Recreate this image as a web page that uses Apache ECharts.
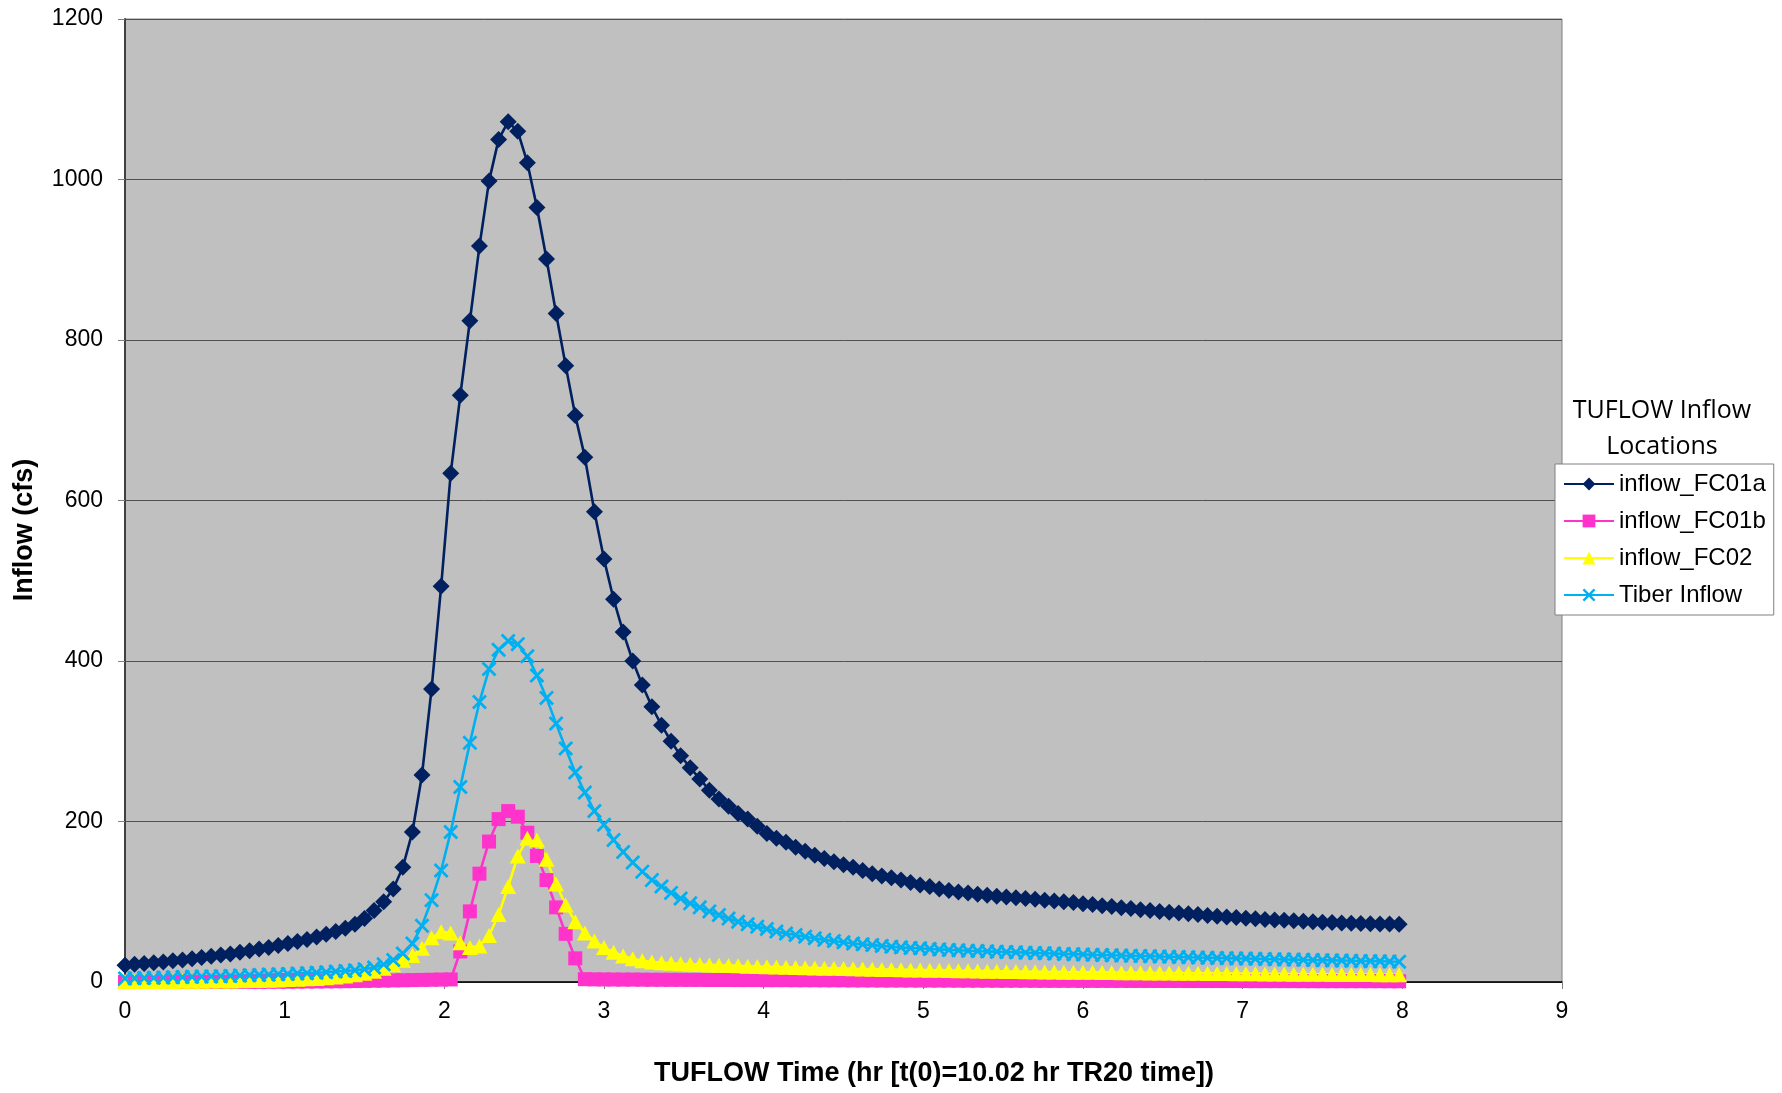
<!DOCTYPE html>
<html>
<head>
<meta charset="utf-8">
<script src="https://cdn.jsdelivr.net/npm/echarts@6/dist/echarts.min.js"></script>
<style>
html,body{margin:0;padding:0;background:#fff;}
#chart{width:1782px;height:1093px;}
</style>
</head>
<body>
<div id="chart"></div>
<script>
// Time (hr) of each sample
const timeHr = [
0, 0.06, 0.12, 0.18, 0.24, 0.3, 0.36, 0.42, 0.48, 0.54,
0.6, 0.66, 0.72, 0.78, 0.84, 0.9, 0.96, 1.02, 1.08, 1.14,
1.2, 1.26, 1.32, 1.38, 1.44, 1.5, 1.56, 1.62, 1.68, 1.74,
1.8, 1.86, 1.92, 1.98, 2.04, 2.1, 2.16, 2.22, 2.28, 2.34,
2.4, 2.46, 2.52, 2.58, 2.64, 2.7, 2.76, 2.82, 2.88, 2.94,
3, 3.06, 3.12, 3.18, 3.24, 3.3, 3.36, 3.42, 3.48, 3.54,
3.6, 3.66, 3.72, 3.78, 3.84, 3.9, 3.96, 4.02, 4.08, 4.14,
4.2, 4.26, 4.32, 4.38, 4.44, 4.5, 4.56, 4.62, 4.68, 4.74,
4.8, 4.86, 4.92, 4.98, 5.04, 5.1, 5.16, 5.22, 5.28, 5.34,
5.4, 5.46, 5.52, 5.58, 5.64, 5.7, 5.76, 5.82, 5.88, 5.94,
6, 6.06, 6.12, 6.18, 6.24, 6.3, 6.36, 6.42, 6.48, 6.54,
6.6, 6.66, 6.72, 6.78, 6.84, 6.9, 6.96, 7.02, 7.08, 7.14,
7.2, 7.26, 7.32, 7.38, 7.44, 7.5, 7.56, 7.62, 7.68, 7.74,
7.8, 7.86, 7.92, 7.98
];

const inflowFC01a = [
21, 22, 23, 24, 25, 26.5, 27.5, 29, 30.5, 32,
33.5, 35, 37, 39, 41, 43, 45.5, 48, 50.5, 53,
56, 59.5, 63, 67, 72, 79, 89, 100, 116, 143,
187, 258, 365, 493, 634, 731, 824, 917, 998, 1050,
1072, 1060, 1021, 965, 901, 833, 768, 706, 654, 586,
527, 477, 436, 400, 370, 343, 320, 300, 282, 267,
253, 239, 228, 219, 210, 203, 194, 185, 179, 174,
168, 163, 158, 154, 150, 146, 143, 139, 135, 132,
130, 127, 124, 121, 119, 116, 114, 112, 111, 109.5,
108, 107, 106, 105, 104, 103, 102, 101, 100, 99,
97.5, 96.5, 95, 94, 92.5, 91.5, 90, 89, 88, 87,
86, 85, 84, 83, 82, 81, 80.3, 79.5, 78.8, 78,
77.4, 76.8, 76.2, 75.6, 75, 74.5, 74, 73.6, 73.2, 72.9,
72.6, 72.4, 72.2, 72
];

const inflowFC01b = [
0, 0, 0, 0, 0, 0, 0, 0, 0, 0,
0, 0.1, 0.1, 0.2, 0.2, 0.3, 0.3, 0.4, 0.5, 0.6,
0.7, 0.8, 0.9, 1.0, 1.2, 1.4, 1.6, 1.8, 2.0, 2.2,
2.4, 2.6, 2.8, 3.0, 3.2, 38, 88, 135, 175, 203,
213, 206, 186, 157, 127, 93, 60, 29.5, 3.5, 3.3,
3.2, 3.1, 3.0, 3.0, 2.9, 2.8, 2.8, 2.7, 2.7, 2.6,
2.6, 2.5, 2.5, 2.5, 2.4, 2.4, 2.4, 2.3, 2.3, 2.3,
2.2, 2.2, 2.2, 2.1, 2.1, 2.1, 2.0, 2.0, 2.0, 1.9,
1.9, 1.9, 1.9, 1.8, 1.8, 1.8, 1.8, 1.7, 1.7, 1.7,
1.7, 1.6, 1.6, 1.6, 1.6, 1.5, 1.5, 1.5, 1.5, 1.5,
1.4, 1.4, 1.4, 1.4, 1.4, 1.3, 1.3, 1.3, 1.3, 1.3,
1.3, 1.2, 1.2, 1.2, 1.2, 1.2, 1.2, 1.1, 1.1, 1.1,
1.1, 1.1, 1.1, 1.1, 1.0, 1.0, 1.0, 1.0, 1.0, 1.0,
1.0, 1.0, 0.9, 0.9
];

const inflowFC02 = [
0.5, 0.5, 0.6, 0.6, 0.7, 0.7, 0.8, 0.9, 1, 1.1,
1.2, 1.4, 1.6, 1.8, 2, 2.3, 2.6, 3, 3.4, 3.9,
4.5, 5.2, 6.2, 7.5, 9, 11, 13.5, 17, 21.5, 27,
33, 42, 55, 62.5, 61, 49, 43, 45, 58, 84,
119, 157, 179, 177, 153, 122, 96, 75, 61, 51,
43, 37, 32.5, 29, 26.5, 25, 24, 23.3, 22.7, 22.2,
21.7, 21.3, 20.9, 20.5, 20.1, 19.7, 19.3, 19, 18.7, 18.4,
18.1, 17.8, 17.5, 17.2, 17, 16.7, 16.4, 16.2, 16, 15.7,
15.5, 15.3, 15.1, 14.9, 14.7, 14.5, 14.3, 14.1, 13.9, 13.7,
13.5, 13.4, 13.2, 13.1, 12.9, 12.8, 12.6, 12.5, 12.3, 12.2,
12.1, 12, 11.9, 11.8, 11.6, 11.5, 11.4, 11.3, 11.2, 11.1,
11, 10.9, 10.8, 10.7, 10.6, 10.5, 10.4, 10.3, 10.2, 10.1,
10, 9.9, 9.8, 9.7, 9.6, 9.6, 9.5, 9.4, 9.3, 9.2,
9.2, 9.1, 9, 9
];

const tiberInflow = [
4.5, 4.7, 5, 5.2, 5.5, 5.8, 6.1, 6.4, 6.7, 7,
7.3, 7.6, 8, 8.4, 8.8, 9.2, 9.6, 10, 10.5, 11,
11.6, 12.2, 13, 13.8, 14.7, 15.8, 18, 22, 27.5, 35.5,
48, 70, 102, 139, 187, 243, 298, 349, 390, 414,
425, 421, 406, 382, 354, 322, 291, 261, 236, 213,
196, 177, 162, 149, 137.5, 127, 119, 111, 104, 98,
93, 88, 83.5, 79, 75, 72, 69, 66, 63, 60.5,
58.5, 56.5, 54.5, 52.5, 51, 49.5, 48, 47, 46, 45,
44, 43.2, 42.4, 42, 41.2, 40.6, 40, 39.5, 39, 38.6,
38.2, 37.8, 37.4, 37, 36.6, 36.2, 35.8, 35.4, 35, 34.7,
34.4, 34, 33.7, 33.4, 33, 32.7, 32.4, 32.1, 31.8, 31.5,
31.2, 30.9, 30.6, 30.3, 30, 29.7, 29.4, 29.2, 28.9, 28.6,
28.4, 28.1, 27.9, 27.6, 27.4, 27.1, 26.9, 26.7, 26.4, 26.2,
26, 25.8, 25.5, 25.3
];

const seriesNames = ['inflow_FC01a', 'inflow_FC01b', 'inflow_FC02', 'Tiber Inflow'];
const xTitle = 'TUFLOW Time (hr [t(0)=10.02 hr TR20 time])';
const yTitle = 'Inflow (cfs)';
const legendTitle = 'TUFLOW Inflow\nLocations';

function pairs(vals) { return timeHr.map((t, i) => [t, vals[i]]); }

const X_SYMBOL = 'path://M0,1.3 L1.3,0 L5,3.7 L8.7,0 L10,1.3 L6.3,5 L10,8.7 L8.7,10 L5,6.3 L1.3,10 L0,8.7 L3.7,5 Z';

const chart = echarts.init(document.getElementById('chart'), null, {renderer: 'canvas'});
const FONT = '"Liberation Sans", Arial, sans-serif';

function mkSeries(name, vals, color, symbol, size) {
  return {
    name: name, type: 'line', data: pairs(vals),
    symbol: symbol, symbolSize: size, showSymbol: true, clip: false,
    lineStyle: {color: color, width: 2.6},
    itemStyle: {color: color},
    emphasis: {disabled: true},
    animation: false
  };
}

chart.setOption({
  animation: false,
  backgroundColor: '#ffffff',
  grid: {left: 125, top: 19, width: 1437, height: 963, show: true,
         backgroundColor: '#C0C0C0', borderColor: '#808080', borderWidth: 1},
  xAxis: {
    type: 'value', min: 0, max: 9, interval: 1,
    axisLine: {show: true, onZero: false, lineStyle: {color: '#000', width: 1.5}},
    axisTick: {show: true, length: 7, lineStyle: {color: '#808080'}},
    axisLabel: {color: '#000', fontFamily: FONT, fontSize: 23, margin: 18},
    splitLine: {show: false}
  },
  yAxis: {
    type: 'value', min: 0, max: 1200, interval: 200,
    axisLine: {show: true, lineStyle: {color: '#404040', width: 2}},
    axisTick: {show: true, length: 7, lineStyle: {color: '#808080'}},
    axisLabel: {color: '#000', fontFamily: FONT, fontSize: 23, margin: 22,
                formatter: function (v) { return String(v); }},
    splitLine: {show: true, lineStyle: {color: '#505050', width: 1}}
  },
  legend: {
    show: true, orient: 'vertical', left: 1555, top: 464,
    data: seriesNames,
    itemWidth: 50, itemHeight: 16, itemGap: 13,
    padding: [8, 8, 8, 8],
    backgroundColor: '#ffffff', borderColor: '#808080', borderWidth: 1,
    textStyle: {color: '#000', fontFamily: FONT, fontSize: 24, padding: [0,0,0,0]},
    selectedMode: false
  },
  graphic: [
    {type: 'text', x: 934, y: 1074, style: {text: xTitle, fill: '#000', font: 'bold 27px ' + FONT, textAlign: 'center', textVerticalAlign: 'middle'}},
    {type: 'text', x: 25, y: 530, rotation: Math.PI / 2, style: {text: yTitle, fill: '#000', font: 'bold 27px ' + FONT, textAlign: 'center', textVerticalAlign: 'middle'}},
    {type: 'text', x: 1662, y: 429, style: {text: legendTitle, fill: '#000', font: '25px "Open Sans", sans-serif', lineHeight: 36, textAlign: 'center', textVerticalAlign: 'middle'}}
  ],
  series: [
    mkSeries(seriesNames[0], inflowFC01a, '#00205F', 'diamond', [17, 17]),
    mkSeries(seriesNames[1], inflowFC01b, '#FF33CC', 'rect', [14, 14]),
    mkSeries(seriesNames[2], inflowFC02, '#FFFF00', 'triangle', [16, 15]),
    mkSeries(seriesNames[3], tiberInflow, '#00B0F0', X_SYMBOL, [15, 15])
  ]
});
</script>
</body>
</html>
